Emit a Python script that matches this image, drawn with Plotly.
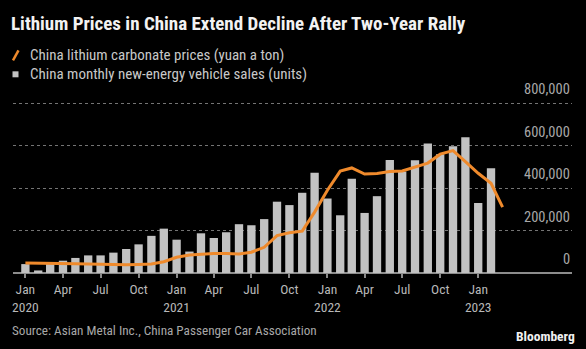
import plotly.graph_objects as go

# ---------------- data ----------------
months_bars = [f"{y}-{m:02d}-01" for y in range(2020, 2024) for m in range(1, 13)][:38]
months_line = [f"{y}-{m:02d}-01" for y in range(2020, 2024) for m in range(1, 13)][:39]

nev_sales = [
    42000, 12000, 50000, 58000, 71000, 83000, 83000, 96000, 113000, 135000, 175000, 209000,
    157000, 101000, 187000, 165000, 192000, 230000, 225000, 254000, 336000, 320000, 378000, 472000,
    351000, 272000, 444000, 283000, 362000, 533000, 478000, 531000, 610000, 560000, 597000, 640000,
    330000, 493000,
]
lithium_price = [
    47000, 47000, 46000, 46000, 44000, 42000, 40000, 39000, 39000, 40000, 42000, 53000,
    74000, 85000, 89000, 92000, 92000, 90000, 98000, 121000, 176000, 190000, 197000, 287000,
    390000, 480000, 495000, 466000, 469000, 478000, 481000, 498000, 518000, 560000, 577000, 525000,
    470000, 423000, 310000,
]
tick_dates = [f"{y}-{m:02d}-01" for y in range(2020, 2024) for m in (1, 4, 7, 10)][:13]
tick_text = ["Jan<br>2020", "Apr", "Jul", "Oct", "Jan<br>2021", "Apr", "Jul", "Oct",
             "Jan<br>2022", "Apr", "Jul", "Oct", "Jan<br>2023"]
y_ticks = [0, 200000, 400000, 600000, 800000]

TITLE = "Lithium Prices in China Extend Decline After Two-Year Rally"
LEG1 = "China lithium carbonate prices (yuan a ton)"
LEG2 = "China monthly new-energy vehicle sales (units)"
SOURCE = "Source: Asian Metal Inc., China Passenger Car Association"

# ---------------- layout constants ----------------
W, H = 586, 349
Y_MAX = 900000
ZERO_Y, Y800 = 273.3, 103.0
PX_PER_UNIT = (ZERO_Y - Y800) / 800000
L, R, B = 13, 13.5, H - ZERO_Y
T = ZERO_Y - Y_MAX * PX_PER_UNIT
PW, PH = W - L - R, H - T - B
FONT = "Liberation Sans Narrow, Roboto Condensed, DejaVu Sans Condensed, Arial Narrow, sans-serif"
ORANGE = "#ef8a2c"
BAR = "#c2c2c2"


def px(x, y):
    return (x - L) / PW, 1 - (y - T) / PH


fig = go.Figure()
fig.add_trace(go.Bar(x=months_bars, y=nev_sales, marker=dict(color=BAR, line=dict(width=0)),
                     name=LEG2, hoverinfo="skip"))
fig.add_trace(go.Scatter(x=months_line, y=lithium_price, mode="lines",
                         line=dict(color=ORANGE, width=3), name=LEG1, hoverinfo="skip"))

fig.update_layout(
    width=W, height=H,
    margin=dict(l=L, r=R, t=T, b=B, pad=0),
    paper_bgcolor="black", plot_bgcolor="black",
    showlegend=False,
    bargap=0.28,
    font=dict(family=FONT, color="#b4b4b4", size=13),
    title=dict(text=TITLE, xref="container", yref="container", x=11 / W, y=1 - 23 / H,
               xanchor="left", yanchor="middle",
               font=dict(family=FONT, size=19, color="#f2f2f2", weight="bold")),
)
fig.update_xaxes(
    type="date", range=["2019-12-02", "2023-08-16"],
    tickmode="array", tickvals=tick_dates, ticktext=tick_text,
    ticks="outside", ticklen=4, tickwidth=1.5, tickcolor="#8a8a8a",
    showgrid=False, showline=False, zeroline=False,
    tickfont=dict(size=13.5, color="#b8b8b8"),
)
fig.update_yaxes(
    range=[0, Y_MAX], side="right", tickmode="array", tickvals=y_ticks,
    showticklabels=False, ticks="",
    showgrid=True, gridcolor="#747474", griddash="dot", gridwidth=1,
    zeroline=True, zerolinecolor="#8c8c8c", zerolinewidth=2,
)

# y tick labels above gridlines, right-aligned
for v in y_ticks:
    fig.add_annotation(text=f"{v:,d}", xref="paper", yref="y", x=1, y=v,
                       xanchor="right", yanchor="bottom", yshift=3, showarrow=False,
                       font=dict(family=FONT, size=14.5, color="#a8a8a8"))

# legend (custom glyphs)
x0, y0 = px(13, 60)
x1, y1 = px(18.5, 50)
fig.add_shape(type="line", xref="paper", yref="paper", x0=x0, y0=y0, x1=x1, y1=y1,
              line=dict(color=ORANGE, width=2.5))
x0, y0 = px(12.5, 71)
x1, y1 = px(18.5, 77)
fig.add_shape(type="rect", xref="paper", yref="paper", x0=x0, y0=y0, x1=x1, y1=y1,
              fillcolor=BAR, line=dict(width=0))


def text(s, x, y, size, color, anchor="left", bold=False):
    ax, ay = px(x, y)
    fig.add_annotation(text=s, xref="paper", yref="paper", x=ax, y=ay, xanchor=anchor,
                       yanchor="middle", showarrow=False,
                       font=dict(family=FONT, size=size, color=color,
                                 weight="bold" if bold else "normal"))


text(LEG1, 28, 55, 15, "#c8c8c8")
text(LEG2, 28, 74, 15, "#c8c8c8")
text(SOURCE, 10, 331, 13.2, "#a8a8a8")
text("Bloomberg", 578, 336.5, 13.5, "#f0f0f0", anchor="right", bold=True)

fig.write_html("out.html")
